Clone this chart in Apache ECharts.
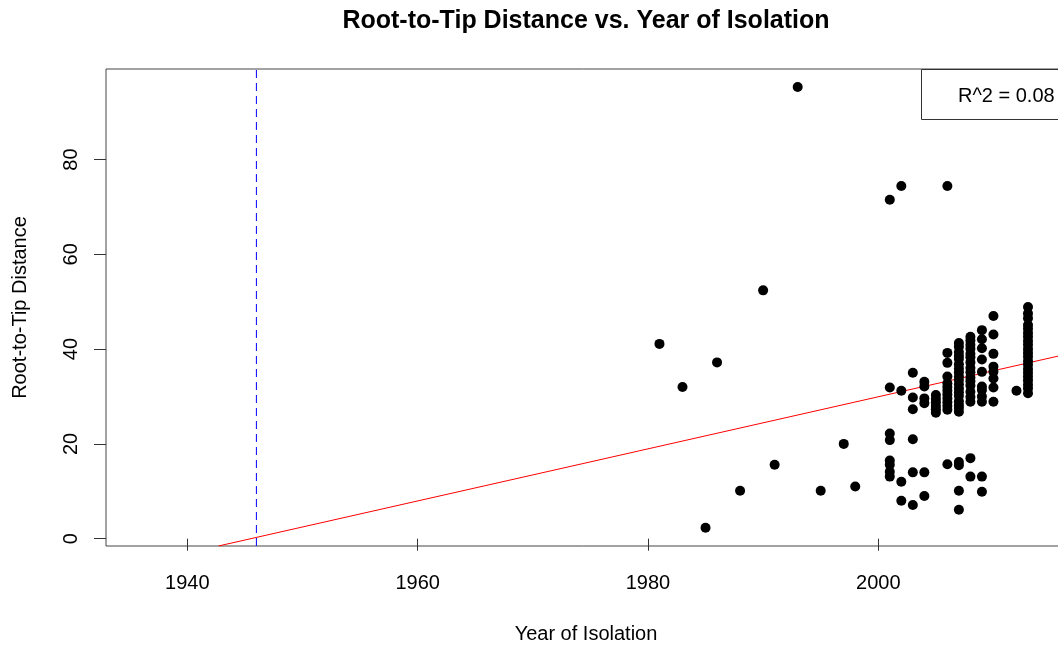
<!DOCTYPE html>
<html>
<head>
<meta charset="utf-8">
<title>Root-to-Tip Distance vs. Year of Isolation</title>
<script src="https://cdn.jsdelivr.net/npm/echarts@6/dist/echarts.min.js"></script>
<style>
  html, body { margin: 0; padding: 0; background: #fff; }
  #chart { width: 1058px; height: 648px; }
</style>
</head>
<body>
<div id="chart"></div>
<script>
// isolation years and the root-to-tip distances of the samples from that year
const isoYears = [1981, 1983, 1985, 1986, 1988, 1990, 1991, 1993, 1995, 1997, 1998,
  2001, 2002, 2003, 2004, 2005, 2006, 2007, 2008, 2009, 2010, 2012, 2013]
const distByYear = [
  [41.1], [32.0], [2.3], [37.2], [10.1], [52.4], [15.6], [95.3], [10.1], [20.0], [11.0],
  [71.5, 31.9, 22.2, 20.8, 16.5, 15.6, 14.1, 13.1],
  [74.4, 31.2, 12.0, 8.0],
  [35.0, 29.8, 27.3, 21.0, 14.0, 7.1],
  [33.1, 32.1, 29.6, 28.6, 14.0, 9.0],
  [30.3, 29.5, 28.8, 28.0, 27.3, 26.6],
  [74.4, 39.2, 37.1, 34.2, 32.8, 32.0, 31.2, 30.4, 29.6, 28.8, 28.0, 27.2, 15.7],
  [41.3, 40.5, 39.4, 38.6, 37.9, 36.8, 35.9, 35.1, 34.2, 33.5, 32.6, 31.7, 30.9, 30.1,
    29.0, 28.2, 27.6, 26.8, 16.2, 15.5, 10.1, 6.1],
  [42.6, 41.8, 40.9, 40.1, 39.0, 38.3, 37.2, 36.0, 35.1, 34.0, 33.2, 32.3, 31.0, 29.9,
    28.9, 17.0, 13.1],
  [44.0, 42.1, 40.2, 37.8, 35.2, 32.1, 31.4, 30.0, 28.9, 13.1, 9.9],
  [47.0, 43.1, 39.0, 36.3, 35.2, 33.8, 31.9, 28.9],
  [31.2],
  [48.9, 47.5, 46.5, 45.1, 44.3, 43.4, 42.6, 41.7, 40.9, 40.0, 39.2, 38.4, 37.5, 36.7,
    35.8, 35.0, 34.2, 33.4, 32.5, 31.7, 30.7]
]

// regression line (clipped ends) and estimated root date
const fitYears = [1942.7, 2016.3]
const fitDist = [-1.54, 38.9]
const rootYear = 1946
const rSquared = '0.08'

const xTicks = [1940, 1960, 1980, 2000]
const yTicks = [0, 20, 40, 60, 80]

const xMin = 1932.94
const xMax = 2016.3
const yMin = -1.54
const yMax = 99.1

const points = []
isoYears.forEach((yr, i) => {
  distByYear[i].forEach(d => points.push([yr, d]))
})

const font = 'Liberation Sans, Arial, sans-serif'
const chart = echarts.init(document.getElementById('chart'))

chart.setOption({
  animation: false,
  backgroundColor: '#fff',
  title: {
    text: 'Root-to-Tip Distance vs. Year of Isolation',
    left: 581,
    top: 4,
    textAlign: 'center',
    textStyle: { fontFamily: font, fontSize: 25, fontWeight: 'bold', color: '#000' }
  },
  grid: {
    left: 106,
    top: 69,
    right: -8,
    bottom: 102,
    outerBoundsMode: 'none',
    containLabel: false,
    show: true,
    borderColor: '#444',
    borderWidth: 1
  },
  xAxis: {
    type: 'value',
    min: xMin,
    max: xMax,
    name: 'Year of Isolation',
    nameLocation: 'middle',
    nameGap: 78,
    nameTextStyle: { fontFamily: font, fontSize: 20, color: '#000' },
    splitLine: { show: false },
    axisLine: { show: false },
    axisTick: { customValues: xTicks, length: 12, lineStyle: { color: '#333' } },
    axisLabel: {
      customValues: xTicks,
      formatter: v => String(v),
      margin: 27,
      fontFamily: font,
      fontSize: 20,
      color: '#000'
    }
  },
  yAxis: {
    type: 'value',
    min: yMin,
    max: yMax,
    name: 'Root-to-Tip Distance',
    nameLocation: 'middle',
    nameGap: 76,
    nameTextStyle: { fontFamily: font, fontSize: 20, color: '#000' },
    splitLine: { show: false },
    axisLine: { show: false },
    axisTick: { customValues: yTicks, length: 12, lineStyle: { color: '#333' } },
    axisLabel: {
      customValues: yTicks,
      formatter: v => String(v),
      rotate: 90,
      margin: 25,
      fontFamily: font,
      fontSize: 20,
      color: '#000'
    }
  },
  series: [
    {
      // estimated root date
      type: 'line',
      data: [[rootYear, yMin], [rootYear, yMax]],
      symbol: 'none',
      silent: true,
      lineStyle: { color: '#0000ff', width: 1, type: [8, 5] }
    },
    {
      type: 'line',
      data: fitYears.map((x, i) => [x, fitDist[i]]),
      symbol: 'none',
      silent: true,
      clip: true,
      lineStyle: { color: '#ff0000', width: 1 }
    },
    {
      type: 'scatter',
      data: points,
      symbolSize: 10,
      itemStyle: { color: '#000', opacity: 1 },
      z: 3
    }
  ],
  graphic: [
    {
      type: 'rect',
      shape: { x: 921.5, y: 69.5, width: 200, height: 50 },
      style: { fill: '#fff', stroke: '#333', lineWidth: 1 },
      z: 100
    },
    {
      type: 'text',
      x: 958,
      y: 96,
      style: {
        text: 'R^2 = ' + rSquared,
        font: '20px ' + font,
        fill: '#000',
        verticalAlign: 'middle'
      },
      z: 101
    }
  ]
})
</script>
</body>
</html>
